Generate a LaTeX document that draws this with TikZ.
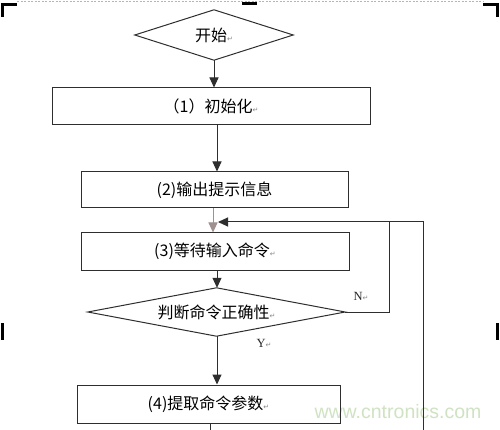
\documentclass[tikz,border=0pt]{standalone}
\usepackage{fontspec}
\newfontfamily\cjk{Noto Sans CJK SC}
\newfontfamily\dv{DejaVu Sans}
\setmainfont{Liberation Serif}
\usetikzlibrary{arrows.meta}
\definecolor{linegray}{HTML}{2E2E2E}
\definecolor{pinkgray}{HTML}{A09090}
\definecolor{wmgreen}{HTML}{CFE3C2}
\definecolor{markgray}{HTML}{888888}
\definecolor{dotblue}{HTML}{9DBBD6}
\newcommand{\pmark}{{\dv\fontsize{7pt}{7pt}\selectfont\textcolor{markgray}{↵}}}
\tikzset{
  boxnode/.style={draw=linegray, line width=1pt, rectangle, inner sep=0pt, font=\cjk\fontsize{16pt}{16pt}\selectfont, text=black},
  dianode/.style={rectangle, inner sep=0pt, font=\cjk\fontsize{16pt}{16pt}\selectfont, text=black},
  dialine/.style={draw=linegray, line width=1pt, line join=miter},
  conn/.style={draw=linegray, line width=1pt},
  arr/.style={conn, -{Triangle[length=10pt,width=9pt]}},
  lbl/.style={font=\fontsize{12.5pt}{12pt}\selectfont, text=black!85, inner sep=0pt},
  cornermark/.style={fill=black, draw=none}
}
\begin{document}
\begin{tikzpicture}[x=1pt,y=-1pt]
\useasboundingbox (0,0) rectangle (500,430);
\fill[white] (0,0) rectangle (500,430);
% page marks
\draw[dotblue, dashed, line width=0.8pt, dash pattern=on 2pt off 1.5pt] (17,1) -- (483,1);
\fill[cornermark] (1,3) rectangle (17,6);
\fill[cornermark] (1,3) rectangle (4,17);
\fill[cornermark] (242,2) rectangle (257,5);
\fill[cornermark] (483,3) rectangle (499,6);
\fill[cornermark] (496,3) rectangle (499,17);
\fill[cornermark] (1,323) rectangle (4,340);
\fill[cornermark] (496,323) rectangle (499,340);
% watermark
\node[font=\fontspec{Liberation Sans}\fontsize{19.5pt}{20pt}\selectfont, text=wmgreen, inner sep=0pt] (wm) at (398,412) {www.cntronics.com};
% nodes
\node[dianode, minimum width=158pt, minimum height=50pt] (start) at (214,35) {开始\pmark};
\draw[dialine] (start.west) -- (start.north) -- (start.east) -- (start.south) -- cycle;
\node[boxnode, minimum width=318pt, minimum height=37pt] (b1) at (211,106.5) {（1）初始化\pmark};
\node[boxnode, minimum width=267pt, minimum height=36pt] (b2) at (214.5,190) {(2)输出提示信息};
\node[boxnode, minimum width=268pt, minimum height=37pt] (b3) at (215,251.5) {(3)等待输入命令\pmark};
\node[dianode, minimum width=257pt, minimum height=48pt] (judge) at (216.5,312) {判断命令正确性\pmark};
\draw[dialine] (judge.west) -- (judge.north) -- (judge.east) -- (judge.south) -- cycle;
\node[boxnode, minimum width=263pt, minimum height=38pt] (b4) at (208.5,404) {(4)提取命令参数\pmark};
% labels
\node[lbl] (nl) at (361,296) {N\pmark};
\node[lbl] (yl) at (264,343) {Y\pmark};
% helper coordinates
\coordinate (loopin) at (218,222);
\coordinate (nturn) at (389,222);
\coordinate (farbot) at (423,430);
\coordinate (fartop) at (423,222);
\coordinate (b4out) at (210,430);
% connectors
\draw[arr] (start.south) -- (start.south |- b1.north);
\draw[arr] (217,0 |- b1.south) -- (217,0 |- b2.north);
\draw[arr, draw=pinkgray] (213,0 |- b2.south) -- (213,0 |- b3.north);
\draw[arr] (217,0 |- b3.south) -- (217,0 |- judge.north);
\draw[arr] (217,0 |- judge.south) -- (217,0 |- b4.north);
\draw[conn] (210,0 |- b4.south) -- (b4out);
\draw[conn] (judge.east) -| (nturn);
\draw[arr] (farbot) -- (fartop) -- (loopin);
\end{tikzpicture}
\end{document}
